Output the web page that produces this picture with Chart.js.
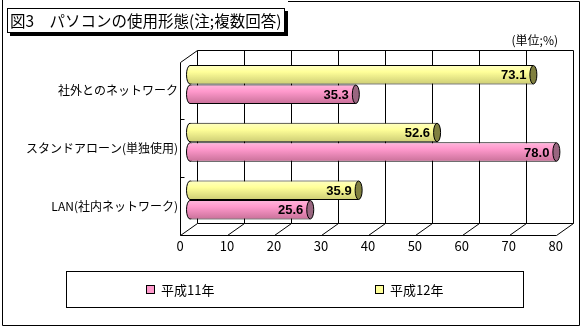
<!DOCTYPE html>
<html>
<head>
<meta charset="utf-8">
<script src="https://cdn.jsdelivr.net/npm/chart.js@4/dist/chart.umd.min.js"></script>
<style>
  html, body { margin: 0; padding: 0; background: #fff; }
  #wrap { width: 582px; height: 328px; position: relative; }
</style>
</head>
<body>
<div id="wrap"><canvas id="c" width="582" height="328"></canvas></div>
<script>
// ---- data ----
const categories = ['社外とのネットワーク', 'スタンドアローン(単独使用)', 'LAN(社内ネットワーク)'];
const seriesNames = ['平成11年', '平成12年'];
const valuesH11 = [35.3, 78.0, 25.6];
const valuesH12 = [73.1, 52.6, 35.9];
const xTicks = [0, 10, 20, 30, 40, 50, 60, 70, 80];
const titleText = '図3　パソコンの使用形態(注;複数回答)';
const unitText = '(単位;%)';

// ---- styling ----
const JP = '"Noto Sans CJK JP", "Noto Sans", sans-serif';
const colH11 = { base: '#FF99CC', top: '#FFB8DD', bottom: '#C87098', cap: '#996680' };
const colH12 = { base: '#FFFF99', top: '#FFFFC4', bottom: '#CCCC74', cap: '#808040' };

// depth offsets of the 3-D box relative to the bar plane
const BACK = { dx: 7, dy: -6 };
const FRONT = { dx: -10, dy: 6 };

Chart.defaults.font.family = JP;
Chart.defaults.color = '#000';

const px = v => Math.round(v) + 0.5;
function line(ctx, x1, y1, x2, y2) {
  ctx.beginPath();
  ctx.moveTo(px(x1), px(y1));
  ctx.lineTo(px(x2), px(y2));
  ctx.stroke();
}
function barGradient(ctx, y, h, c) {
  const g = ctx.createLinearGradient(0, y - h / 2, 0, y + h / 2);
  g.addColorStop(0, c.top);
  g.addColorStop(0.35, c.base);
  g.addColorStop(1, c.bottom);
  return g;
}

const cylinderPlugin = {
  id: 'cylinderBox',
  beforeDatasetsDraw(chart) {
    const ctx = chart.ctx;
    const xs = chart.scales.x, a = chart.chartArea;
    const x0 = xs.getPixelForValue(xTicks[0]);
    const xN = xs.getPixelForValue(xTicks[xTicks.length - 1]);
    const backTop = a.top + BACK.dy, backBot = a.bottom + BACK.dy;
    const frontTop = a.top + FRONT.dy, frontBot = a.bottom + FRONT.dy;
    ctx.save();
    ctx.strokeStyle = '#000';
    ctx.lineWidth = 1;
    // back wall gridlines and floor depth lines
    xTicks.forEach(v => {
      const p = xs.getPixelForValue(v);
      line(ctx, p + BACK.dx, backTop, p + BACK.dx, backBot);
      line(ctx, p + FRONT.dx, frontBot, p + BACK.dx, backBot);
    });
    line(ctx, x0 + BACK.dx, backTop, xN + BACK.dx, backTop);
    line(ctx, x0 + BACK.dx, backBot, xN + BACK.dx, backBot);
    line(ctx, x0 + FRONT.dx, frontBot, xN + FRONT.dx, frontBot);
    // side wall
    line(ctx, x0 + FRONT.dx, frontTop, x0 + FRONT.dx, frontBot);
    line(ctx, x0 + FRONT.dx, frontTop, x0 + BACK.dx, backTop);
    const cw = (a.bottom - a.top) / categories.length;
    for (let k = 1; k < categories.length; k++) {
      const yy = frontTop + k * cw;
      line(ctx, x0 + FRONT.dx, yy, x0 + FRONT.dx + 4, yy);
    }

    // bar shading and rounded back ends
    chart.data.datasets.forEach((ds, i) => {
      const meta = chart.getDatasetMeta(i);
      const c = ds._shade;
      meta.data.forEach(el => {
        const { y, base, height } = el.getProps(['y', 'base', 'height'], true);
        const g = barGradient(ctx, y, height, c);
        el.options = Object.assign({}, el.options, { backgroundColor: g });
        ctx.beginPath();
        ctx.ellipse(base, y, 3.5, height / 2 - 0.5, 0, 0, Math.PI * 2);
        ctx.fillStyle = g;
        ctx.fill();
        ctx.stroke();
      });
    });
    ctx.restore();
  },
  afterDatasetsDraw(chart) {
    const ctx = chart.ctx;
    ctx.save();
    ctx.strokeStyle = '#000';
    ctx.lineWidth = 1;
    chart.data.datasets.forEach((ds, i) => {
      const meta = chart.getDatasetMeta(i);
      meta.data.forEach((el, j) => {
        const { x, y, height } = el.getProps(['x', 'y', 'height'], true);
        ctx.beginPath();
        ctx.ellipse(x, y, 3.5, height / 2 - 0.5, 0, 0, Math.PI * 2);
        ctx.fillStyle = ds._shade.cap;
        ctx.fill();
        ctx.stroke();
        ctx.fillStyle = '#000';
        ctx.font = 'bold 13px "Liberation Sans", Arial, sans-serif';
        ctx.textAlign = 'right';
        ctx.textBaseline = 'middle';
        ctx.fillText(ds.data[j].toFixed(1), x - 7, y + 1);
      });
    });
    ctx.restore();
  },
  afterDraw(chart) {
    const ctx = chart.ctx;
    ctx.save();
    ctx.strokeStyle = '#000';
    ctx.lineWidth = 1;
    // outer frame (top edge starts after the title box)
    ctx.beginPath();
    ctx.moveTo(288, 1.5);
    ctx.lineTo(579.5, 1.5);
    ctx.lineTo(579.5, 325.5);
    ctx.lineTo(2.5, 325.5);
    ctx.lineTo(2.5, 0);
    ctx.stroke();

    // title box with drop shadow
    ctx.fillStyle = '#000';
    ctx.fillRect(10, 11, 278, 25);
    ctx.fillStyle = '#fff';
    ctx.fillRect(7, 8, 278, 25);
    ctx.strokeRect(7.5, 8.5, 277, 24);
    ctx.fillStyle = '#000';
    ctx.font = '15.5px ' + JP;
    ctx.textAlign = 'left';
    ctx.textBaseline = 'middle';
    ctx.fillText(titleText, 10, 21);

    // unit note
    ctx.font = '12px ' + JP;
    ctx.textAlign = 'right';
    ctx.fillText(unitText, 558, 40);

    // legend
    ctx.strokeRect(66.5, 271.5, 457, 36);
    const items = [
      { label: seriesNames[0], color: colH11.base, x: 146 },
      { label: seriesNames[1], color: colH12.base, x: 375 }
    ];
    ctx.font = '13px ' + JP;
    ctx.textAlign = 'left';
    items.forEach(it => {
      ctx.fillStyle = it.color;
      ctx.fillRect(it.x, 285, 8, 8);
      ctx.strokeRect(it.x + 0.5, 285.5, 8, 8);
      ctx.fillStyle = '#000';
      ctx.fillText(it.label, it.x + 15, 290);
    });
    ctx.restore();
  }
};

new Chart(document.getElementById('c'), {
  type: 'bar',
  data: {
    labels: categories,
    datasets: [
      {
        label: seriesNames[1], data: valuesH12, _shade: colH12,
        backgroundColor: colH12.base, borderColor: '#000', borderWidth: 1,
        borderSkipped: 'start', categoryPercentage: 0.676, barPercentage: 1
      },
      {
        label: seriesNames[0], data: valuesH11, _shade: colH11,
        backgroundColor: colH11.base, borderColor: '#000', borderWidth: 1,
        borderSkipped: 'start', categoryPercentage: 0.676, barPercentage: 1
      }
    ]
  },
  options: {
    indexAxis: 'y',
    responsive: false,
    animation: false,
    devicePixelRatio: 1,
    layout: { padding: { left: 0, right: 14.4, top: 55.65, bottom: 0 } },
    plugins: { legend: { display: false }, tooltip: { enabled: false } },
    scales: {
      x: {
        min: 0, max: 80,
        afterBuildTicks: s => { s.ticks = xTicks.map(v => ({ value: v })); },
        ticks: { font: { size: 13 }, color: '#000', padding: 9, labelOffset: -10, maxRotation: 0 },
        grid: { display: false, drawTicks: false },
        border: { display: false },
        afterFit: s => { s.height = 99.15; }
      },
      y: {
        ticks: { font: { size: 12 }, color: '#000', padding: 12, labelOffset: 6 },
        grid: { display: false, drawTicks: false },
        border: { display: false },
        afterFit: s => { s.width = 190; }
      }
    }
  },
  plugins: [cylinderPlugin]
});
</script>
</body>
</html>
